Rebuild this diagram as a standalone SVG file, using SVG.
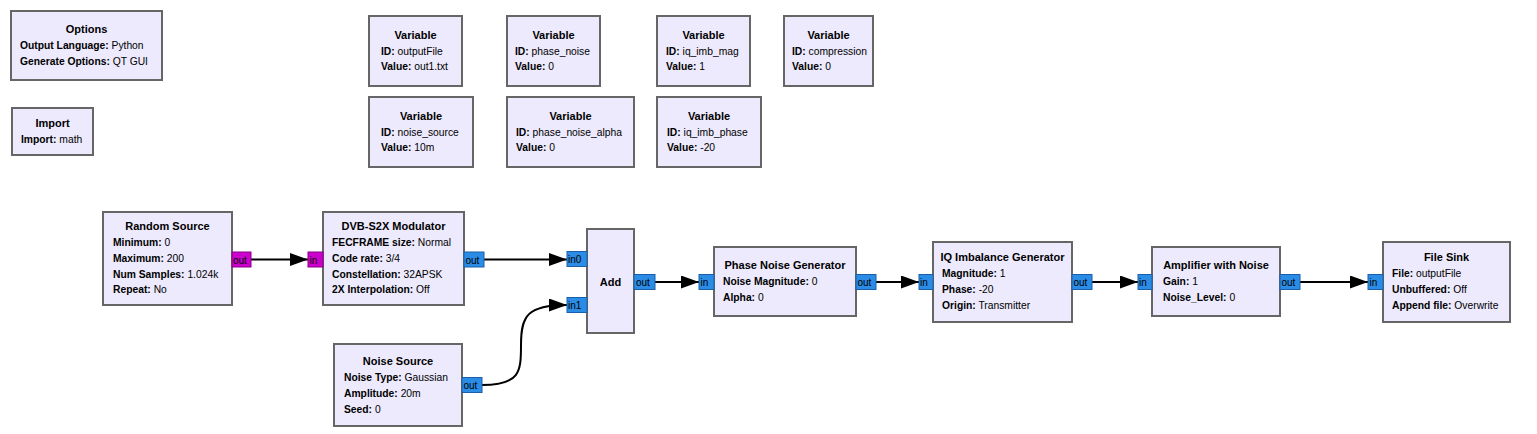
<svg xmlns="http://www.w3.org/2000/svg" width="1537" height="434" viewBox="0 0 1537 434">
<style>
.blk{fill:#edeafd;stroke:#666;stroke-width:2}
.t{font-family:"Liberation Sans",Arial,sans-serif;font-size:11px;font-weight:bold;fill:#000;text-anchor:middle}
.l{font-family:"Liberation Sans",Arial,sans-serif;font-size:10.3px;fill:#000}
.l tspan.b{font-weight:bold}
.pb{fill:#2b8ce6;stroke:#1a5fa8;stroke-width:1}
.pm{fill:#cc00cc;stroke:#8a008a;stroke-width:1}
.pt{font-family:"Liberation Sans",Arial,sans-serif;font-size:10px;fill:#000}
.c{fill:none;stroke:#000;stroke-width:2}
</style>
<defs>
<marker id="ah" viewBox="0 0 18 13" refX="18" refY="6.5" markerWidth="18" markerHeight="13" markerUnits="userSpaceOnUse" orient="auto">
<path d="M0,0 L18,6.5 L0,13 z" fill="#000"/>
</marker>
</defs>
<rect width="1537" height="434" fill="#fff"/>

<g id="options">
<rect class="blk" x="11" y="11" width="151" height="69"/>
<text class="t" x="86.5" y="33">Options</text>
<text class="l" x="20" y="49"><tspan class="b">Output Language:</tspan> Python</text>
<text class="l" x="20" y="65"><tspan class="b">Generate Options:</tspan> QT GUI</text>
</g>
<g id="import">
<rect class="blk" x="12" y="108" width="81" height="47"/>
<text class="t" x="52.5" y="127">Import</text>
<text class="l" x="21" y="143"><tspan class="b">Import:</tspan> math</text>
</g>

<g id="var_outputFile">
<rect class="blk" x="369" y="16" width="93" height="70"/>
<text class="t" x="415.5" y="39">Variable</text>
<text class="l" x="381" y="55"><tspan class="b">ID:</tspan> outputFile</text>
<text class="l" x="381" y="70"><tspan class="b">Value:</tspan> out1.txt</text>
</g>
<g id="var_phase_noise">
<rect class="blk" x="507" y="16" width="93" height="70"/>
<text class="t" x="553.5" y="39">Variable</text>
<text class="l" x="515" y="55"><tspan class="b">ID:</tspan> phase_noise</text>
<text class="l" x="515" y="70"><tspan class="b">Value:</tspan> 0</text>
</g>
<g id="var_iq_imb_mag">
<rect class="blk" x="657" y="16" width="93" height="70"/>
<text class="t" x="703.5" y="39">Variable</text>
<text class="l" x="666" y="55"><tspan class="b">ID:</tspan> iq_imb_mag</text>
<text class="l" x="666" y="70"><tspan class="b">Value:</tspan> 1</text>
</g>
<g id="var_compression">
<rect class="blk" x="784" y="16" width="89" height="70"/>
<text class="t" x="828.5" y="39">Variable</text>
<text class="l" x="792" y="55"><tspan class="b">ID:</tspan> compression</text>
<text class="l" x="792" y="70"><tspan class="b">Value:</tspan> 0</text>
</g>
<g id="var_noise_source">
<rect class="blk" x="369" y="97" width="104" height="70"/>
<text class="t" x="421" y="120">Variable</text>
<text class="l" x="381" y="136"><tspan class="b">ID:</tspan> noise_source</text>
<text class="l" x="381" y="151"><tspan class="b">Value:</tspan> 10m</text>
</g>
<g id="var_phase_noise_alpha">
<rect class="blk" x="507" y="97" width="127" height="70"/>
<text class="t" x="570.5" y="120">Variable</text>
<text class="l" x="516" y="136"><tspan class="b">ID:</tspan> phase_noise_alpha</text>
<text class="l" x="516" y="151"><tspan class="b">Value:</tspan> 0</text>
</g>
<g id="var_iq_imb_phase">
<rect class="blk" x="657" y="97" width="104" height="70"/>
<text class="t" x="709" y="120">Variable</text>
<text class="l" x="667" y="136"><tspan class="b">ID:</tspan> iq_imb_phase</text>
<text class="l" x="667" y="151"><tspan class="b">Value:</tspan> -20</text>
</g>

<g id="connectors">
<path class="c" marker-end="url(#ah)" d="M251,259.5 L308,259.5"/>
<path class="c" marker-end="url(#ah)" d="M484,259.5 L567,259.5"/>
<path class="c" marker-end="url(#ah)" d="M482,385 C520,385 521,372 521,345 C521,316 527,305 567,305"/>
<path class="c" marker-end="url(#ah)" d="M655,282 L699,282"/>
<path class="c" marker-end="url(#ah)" d="M876,282 L919,282"/>
<path class="c" marker-end="url(#ah)" d="M1092,282 L1138,282"/>
<path class="c" marker-end="url(#ah)" d="M1300,282 L1368,282"/>
</g>

<g id="random_source">
<rect class="blk" x="103" y="212" width="129" height="93"/>
<text class="t" x="167.5" y="230">Random Source</text>
<text class="l" x="113" y="246"><tspan class="b">Minimum:</tspan> 0</text>
<text class="l" x="113" y="262"><tspan class="b">Maximum:</tspan> 200</text>
<text class="l" x="113" y="277.5"><tspan class="b">Num Samples:</tspan> 1.024k</text>
<text class="l" x="113" y="293"><tspan class="b">Repeat:</tspan> No</text>
<rect class="pm" x="232" y="252" width="19" height="15"/>
<text class="pt" x="233" y="263.5">out</text>
</g>

<g id="dvbs2x_modulator">
<rect class="blk" x="323" y="212" width="141" height="93"/>
<text class="t" x="393.5" y="230">DVB-S2X Modulator</text>
<text class="l" x="332" y="246"><tspan class="b">FECFRAME size:</tspan> Normal</text>
<text class="l" x="332" y="262"><tspan class="b">Code rate:</tspan> 3/4</text>
<text class="l" x="332" y="277.5"><tspan class="b">Constellation:</tspan> 32APSK</text>
<text class="l" x="332" y="293"><tspan class="b">2X Interpolation:</tspan> Off</text>
<rect class="pm" x="308" y="252" width="15" height="15"/>
<text class="pt" x="309.5" y="263.5">in</text>
<rect class="pb" x="464" y="252" width="20" height="15"/>
<text class="pt" x="465.5" y="263.5">out</text>
</g>

<g id="noise_source">
<rect class="blk" x="334" y="344" width="128" height="82"/>
<text class="t" x="398" y="365">Noise Source</text>
<text class="l" x="344" y="381"><tspan class="b">Noise Type:</tspan> Gaussian</text>
<text class="l" x="344" y="397"><tspan class="b">Amplitude:</tspan> 20m</text>
<text class="l" x="344" y="413"><tspan class="b">Seed:</tspan> 0</text>
<rect class="pb" x="462" y="377.5" width="20" height="15"/>
<text class="pt" x="463.5" y="389">out</text>
</g>

<g id="add">
<rect class="blk" x="587" y="229" width="47" height="104"/>
<text class="t" x="610.5" y="286">Add</text>
<rect class="pb" x="567" y="251.5" width="20" height="15"/>
<text class="pt" x="568" y="263">in0</text>
<rect class="pb" x="567" y="297.5" width="20" height="15"/>
<text class="pt" x="568" y="309">in1</text>
<rect class="pb" x="634" y="274.5" width="21" height="15"/>
<text class="pt" x="636" y="286">out</text>
</g>

<g id="phase_noise_generator">
<rect class="blk" x="714" y="247" width="142" height="69"/>
<text class="t" x="785" y="269">Phase Noise Generator</text>
<text class="l" x="723" y="285"><tspan class="b">Noise Magnitude:</tspan> 0</text>
<text class="l" x="723" y="301"><tspan class="b">Alpha:</tspan> 0</text>
<rect class="pb" x="699" y="274.5" width="15" height="15"/>
<text class="pt" x="700.5" y="286">in</text>
<rect class="pb" x="856" y="274.5" width="20" height="15"/>
<text class="pt" x="857.5" y="286">out</text>
</g>

<g id="iq_imbalance_generator">
<rect class="blk" x="933" y="242" width="139" height="80"/>
<text class="t" x="1002.5" y="261">IQ Imbalance Generator</text>
<text class="l" x="942" y="277"><tspan class="b">Magnitude:</tspan> 1</text>
<text class="l" x="942" y="293"><tspan class="b">Phase:</tspan> -20</text>
<text class="l" x="942" y="309"><tspan class="b">Origin:</tspan> Transmitter</text>
<rect class="pb" x="919" y="274.5" width="14" height="15"/>
<text class="pt" x="920" y="286">in</text>
<rect class="pb" x="1072" y="274.5" width="20" height="15"/>
<text class="pt" x="1073.5" y="286">out</text>
</g>

<g id="amplifier_with_noise">
<rect class="blk" x="1152" y="247" width="128" height="69"/>
<text class="t" x="1216" y="269">Amplifier with Noise</text>
<text class="l" x="1163" y="285"><tspan class="b">Gain:</tspan> 1</text>
<text class="l" x="1163" y="301"><tspan class="b">Noise_Level:</tspan> 0</text>
<rect class="pb" x="1138" y="274.5" width="14" height="15"/>
<text class="pt" x="1139" y="286">in</text>
<rect class="pb" x="1280" y="274.5" width="20" height="15"/>
<text class="pt" x="1281.5" y="286">out</text>
</g>

<g id="file_sink">
<rect class="blk" x="1383" y="242" width="127" height="80"/>
<text class="t" x="1446.5" y="261">File Sink</text>
<text class="l" x="1392" y="277"><tspan class="b">File:</tspan> outputFile</text>
<text class="l" x="1392" y="293"><tspan class="b">Unbuffered:</tspan> Off</text>
<text class="l" x="1392" y="309"><tspan class="b">Append file:</tspan> Overwrite</text>
<rect class="pb" x="1368" y="274.5" width="15" height="15"/>
<text class="pt" x="1369.5" y="286">in</text>
</g>
</svg>
